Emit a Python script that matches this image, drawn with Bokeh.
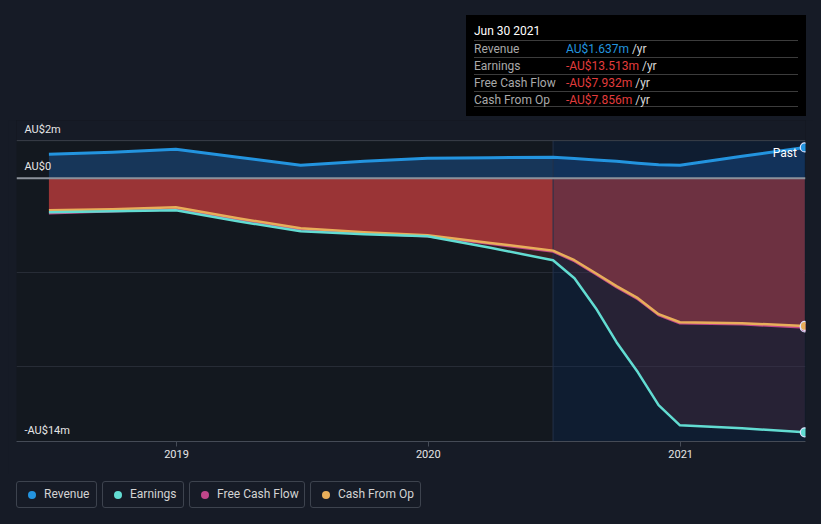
import pandas as pd
from bokeh.plotting import figure
from bokeh.models import (Range1d, FixedTicker, DatetimeTickFormatter, Span,
                          BoxAnnotation, Div, Grid, ColumnDataSource)
from bokeh.layouts import column
from bokeh.core.properties import value
from bokeh.embed import file_html
from bokeh.resources import INLINE

# ---------------- data (AU$ millions, trailing twelve months) ----------------
dates = ["2018-06-30", "2018-09-30", "2018-12-31", "2019-03-31", "2019-06-30",
         "2019-09-30", "2019-12-31", "2020-03-31", "2020-06-30", "2020-07-31",
         "2020-08-31", "2020-09-30", "2020-10-31", "2020-11-30", "2020-12-31",
         "2021-03-31", "2021-06-30"]
revenue = [1.28, 1.38, 1.54, 1.12, 0.69, 0.90, 1.06, 1.09, 1.12, 1.05,
           0.97, 0.90, 0.80, 0.72, 0.69, 1.17, 1.637]
earnings = [-1.81, -1.76, -1.70, -2.29, -2.82, -2.98, -3.09, -3.70, -4.36, -5.32,
            -6.91, -8.72, -10.32, -12.07, -13.14, -13.30, -13.513]
free_cash_flow = [-1.86, -1.76, -1.65, -2.18, -2.71, -2.93, -3.09, -3.48, -3.90, -4.41,
                  -5.10, -5.79, -6.43, -7.28, -7.71, -7.77, -7.932]
cash_from_op = [-1.70, -1.65, -1.54, -2.13, -2.66, -2.87, -3.03, -3.44, -3.85, -4.36,
                -5.05, -5.74, -6.38, -7.23, -7.66, -7.71, -7.856]

ytick_vals = [2, 0, -14]
ytick_labels = ["AU$2m", "AU$0", "-AU$14m"]
grid_vals = [-5, -10]
xtick_dates = ["2019-01-01", "2020-01-01", "2021-01-01"]
series_names = ["Revenue", "Earnings", "Free Cash Flow", "Cash From Op"]

tooltip_title = "Jun 30 2021"
tooltip_values = ["AU$1.637m", "-AU$13.513m", "-AU$7.932m", "-AU$7.856m"]

# ---------------- styling ----------------
BG = "#161b26"
PLOT_BG = "#13181f"
REV = "#2394df"
EARN = "#62dcd2"
FCF = "#c0468a"
CFO = "#e8ae5a"
colors = [REV, EARN, FCF, CFO]
FONT = "Roboto"

x = pd.to_datetime(dates)
x_start = pd.Timestamp("2018-05-14")
x_end = pd.Timestamp("2021-07-01")
y_min, y_top = ytick_vals[-1], ytick_vals[0]

p = figure(width=805, height=354, x_axis_type="datetime", y_axis_location=None,
           output_backend="svg", toolbar_location=None,
           x_range=Range1d(x_start, x_end), y_range=Range1d(y_min, 3.07),
           min_border_left=8, min_border_right=8, min_border_top=0, min_border_bottom=33,
           background_fill_color=PLOT_BG, border_fill_color=BG, outline_line_color=None)

# grids: only faint horizontal lines at fixed values
have_ygrid = False
for r in list(p.center):
    if isinstance(r, Grid):
        if r.dimension == 1:
            r.ticker = FixedTicker(ticks=grid_vals)
            r.grid_line_color = "#272c36"
            r.grid_line_width = 1
            have_ygrid = True
        else:
            r.grid_line_color = None
if not have_ygrid:
    p.add_layout(Grid(dimension=1, ticker=FixedTicker(ticks=grid_vals),
                      grid_line_color="#272c36", grid_line_width=1))

# area above the top gridline uses page colour
p.add_layout(BoxAnnotation(bottom=y_top, fill_color=BG, fill_alpha=1, line_color=None,
                           level="underlay"))

src = ColumnDataSource(dict(x=x, rev=revenue, earn=earnings, fcf=free_cash_flow, cfo=cash_from_op))

# filled areas
p.varea(x="x", y1=0, y2="rev", source=src, fill_color="#173659")
p.varea(x="x", y1=0, y2="cfo", source=src, fill_color="#9a3436")
p.varea(x="x", y1="cfo", y2="earn", source=src, fill_color="#9a3436", fill_alpha=0.25)

# last-year highlight
past_start = pd.Timestamp(dates[8])
p.quad(left=[past_start], right=[x_end], top=[y_top], bottom=[y_min],
       fill_color="#062a5c", fill_alpha=0.3, line_color=None)
p.segment(x0=[past_start], y0=[y_min], x1=[past_start], y1=[y_top],
          line_color="#23304a", line_width=1)

# lines
p.line(x="x", y="fcf", source=src, line_color=FCF, line_width=2.5, line_join="round")
p.line(x="x", y="cfo", source=src, line_color=CFO, line_width=2.5, line_join="round")
p.line(x="x", y="earn", source=src, line_color=EARN, line_width=2.5, line_join="round")
p.line(x="x", y="rev", source=src, line_color=REV, line_width=3, line_join="round")

# end markers
last_src = ColumnDataSource(dict(
    x=[x[-1]] * 4,
    y=[revenue[-1], earnings[-1], free_cash_flow[-1], cash_from_op[-1]],
    c=colors))
p.scatter(x="x", y="y", source=last_src, size=9, fill_color="c",
          line_color="#dfe4ff", line_width=1.2)

# reference lines
p.add_layout(Span(location=y_top, dimension="width", line_color="#3a3f49", line_width=1))
p.add_layout(Span(location=0, dimension="width", line_color="#8d929b", line_width=2))

# y labels inside plot
p.text(x=[x_start] * len(ytick_vals), y=ytick_vals, text=ytick_labels,
       x_offset=8, y_offset=-5, text_baseline="bottom", text_align="left",
       text_font=value(FONT), text_font_size="11px", text_color="#e6e6e6")

# "Past" label
p.text(x=[x[-1]], y=[revenue[-1]], text=["Past"], x_offset=-8, y_offset=6,
       text_align="right", text_baseline="middle",
       text_font=value(FONT), text_font_size="12px", text_color="#ffffff")

# x axis
p.xaxis.ticker = FixedTicker(ticks=[pd.Timestamp(d).value / 1e6 for d in xtick_dates])
p.xaxis.formatter = DatetimeTickFormatter(years="%Y", months="%Y", days="%Y",
                                          hours="%Y", minutes="%Y")
p.xaxis.axis_line_color = "#454b56"
p.xaxis.major_tick_line_color = "#454b56"
p.xaxis.major_tick_in = 0
p.xaxis.major_tick_out = 5
p.xaxis.minor_tick_line_color = None
p.xaxis.major_label_text_color = "#e6e6e6"
p.xaxis.major_label_text_font = FONT
p.xaxis.major_label_text_font_size = "11px"
p.xaxis.major_label_standoff = 3

# ---------------- tooltip box (HTML) ----------------
val_colors = [REV, "#e23c3c", "#e23c3c", "#e23c3c"]
rows = ""
for i, (nm, vl, vc) in enumerate(zip(series_names, tooltip_values, val_colors)):
    top = 25 + 17 * i
    bb = "border-bottom:1px solid #3c3c3c;" if i == len(series_names) - 1 else ""
    rows += (f'<div style="position:absolute;left:8px;top:{top}px;width:324px;height:16px;'
             f'border-top:1px solid #3c3c3c;{bb}line-height:16px;">'
             f'<span style="position:absolute;left:0;color:#a9a9a9;">{nm}</span>'
             f'<span style="position:absolute;left:92px;white-space:nowrap;">'
             f'<span style="color:{vc};">{vl}</span>'
             f'<span style="color:#d8d8d8;"> /yr</span></span></div>')
tooltip_html = (
    f'<div style="position:relative;width:805px;height:112px;font-family:{FONT};font-size:12px;">'
    f'<div style="position:absolute;left:458px;top:7px;width:340px;height:101px;background:#000;">'
    f'<div style="position:absolute;left:8px;top:8px;color:#fff;line-height:16px;">{tooltip_title}</div>'
    f'{rows}</div></div>')
tooltip_div = Div(text=tooltip_html, width=805, height=112, margin=0)

# ---------------- legend (HTML) ----------------
box_widths = [81, 82, 116, 111]
items = ""
for nm, c, w in zip(series_names, colors, box_widths):
    items += (f'<div style="box-sizing:border-box;width:{w}px;height:27px;display:flex;'
              f'align-items:center;border:1px solid #3d434e;border-radius:3px;'
              f'padding:0 0 0 11px;white-space:nowrap;color:#d3d3d3;">'
              f'<span style="display:inline-block;width:8px;height:8px;border-radius:50%;'
              f'background:{c};margin-right:8px;"></span>{nm}</div>')
legend_html = (f'<div style="display:flex;gap:5px;padding:7px 0 0 8px;font-family:{FONT};'
               f'font-size:12px;">{items}</div>')
legend_div = Div(text=legend_html, width=805, height=42, margin=0)

layout = column(tooltip_div, p, legend_div, spacing=0)

html = file_html(layout, INLINE)
html = html.replace(
    "</head>",
    f"<style>html{{background:{BG};}} body{{background:{BG};margin:8px !important;}}</style></head>",
    1)
open("out.html", "w").write(html)
